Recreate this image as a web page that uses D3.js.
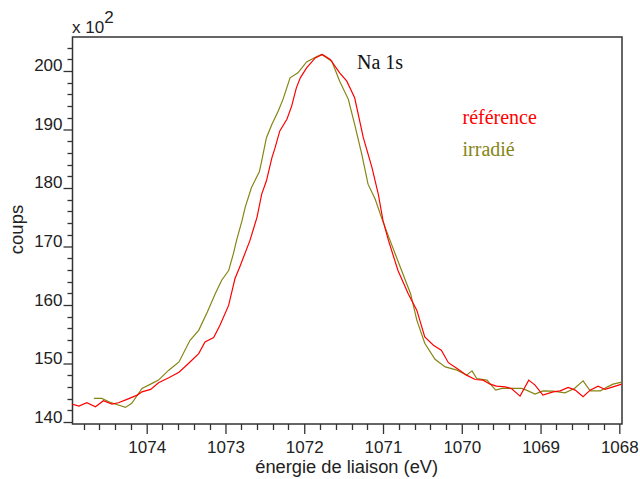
<!DOCTYPE html>
<html><head><meta charset="utf-8">
<script src="https://cdn.jsdelivr.net/npm/d3@7"></script>
<style>
html,body{margin:0;padding:0;background:#fff;}
svg{display:block;}
</style></head>
<body>
<svg id="chart" width="640" height="479"></svg>
<script>
// ---- data (counts in units of 10^2) ----
const refEnergy = [1074.95,1074.86,1074.76,1074.65,1074.55,1074.44,1074.36,1074.25,1074.12,1074.06,1073.95,1073.85,1073.72,1073.59,1073.47,1073.34,1073.26,1073.15,1073.07,1072.96,1072.88,1072.82,1072.69,1072.60,1072.54,1072.48,1072.41,1072.37,1072.31,1072.22,1072.16,1072.10,1072.05,1071.97,1071.86,1071.77,1071.67,1071.55,1071.46,1071.36,1071.25,1071.14,1071.06,1071.00,1070.93,1070.81,1070.68,1070.57,1070.47,1070.36,1070.26,1070.17,1070.06,1069.94,1069.83,1069.73,1069.64,1069.56,1069.45,1069.37,1069.26,1069.15,1069.07,1068.97,1068.84,1068.75,1068.65,1068.56,1068.46,1068.37,1068.27,1068.18,1068.08,1067.97];
const refCounts = [143.07,142.73,143.29,142.61,143.63,143.07,143.29,143.87,144.60,145.16,145.57,146.70,147.55,148.52,150.0,151.70,153.68,154.43,156.52,159.93,164.48,166.46,171.0,174.98,178.96,181.23,185.20,186.90,189.75,191.74,194.0,197.12,198.83,200.53,202.23,202.81,201.96,199.68,198.26,195.42,188.60,183.49,178.96,174.41,171.0,165.89,161.93,159.08,154.53,153.12,152.27,150.14,149.15,148.01,147.27,147.16,146.47,146.13,146.01,145.74,144.43,147.16,146.30,144.60,145.16,145.33,145.91,145.45,144.31,145.45,146.13,145.57,146.01,146.47];
const irrEnergy = [1074.67,1074.57,1074.48,1074.40,1074.27,1074.19,1074.06,1073.95,1073.85,1073.72,1073.59,1073.45,1073.34,1073.23,1073.13,1073.05,1072.96,1072.90,1072.86,1072.79,1072.75,1072.67,1072.57,1072.54,1072.48,1072.41,1072.33,1072.27,1072.18,1072.08,1071.97,1071.86,1071.78,1071.65,1071.55,1071.44,1071.36,1071.27,1071.19,1071.10,1071.02,1070.91,1070.78,1070.65,1070.57,1070.47,1070.34,1070.21,1070.06,1069.94,1069.87,1069.81,1069.68,1069.57,1069.49,1069.37,1069.24,1069.18,1069.07,1068.97,1068.84,1068.69,1068.57,1068.46,1068.37,1068.24,1068.15,1068.08,1067.97];
const irrCounts = [144.04,144.04,143.46,143.07,142.50,143.19,145.74,146.47,147.16,148.86,150.27,153.97,155.67,158.79,161.93,164.19,165.89,168.74,171.0,174.41,176.68,180.09,182.76,184.63,188.60,190.89,193.15,195.15,198.83,199.68,201.55,202.35,202.81,201.67,198.26,195.15,190.89,185.78,180.66,178.11,174.98,171.0,166.46,161.93,157.38,153.46,150.73,149.42,148.86,148.01,148.74,147.44,147.16,145.45,145.74,145.74,145.74,145.45,144.77,145.33,145.28,144.99,145.74,147.04,145.33,145.33,146.01,146.47,146.81];
const xTickLabels = [1074,1073,1072,1071,1070,1069,1068];
const yTickLabels = [140,150,160,170,180,190,200];
const seriesNames = ["référence","irradié"];
const seriesColors = ["#ff0000","#858514"];

// ---- layout ----
const L = 72.5, R = 622, T = 37, B = 424;
const svg = d3.select("#chart");
const x = d3.scaleLinear().domain([1074.942, 1067.966]).range([L, R]);
const y = d3.scaleLinear().domain([139.66, 205.81]).range([B, T]);
const sans = "'Liberation Sans', Arial, sans-serif";
const serif = "'Liberation Serif', 'Times New Roman', serif";
const axisCol = "#333";

// clip
svg.append("defs").append("clipPath").attr("id","clip")
  .append("rect").attr("x",L).attr("y",T).attr("width",R-L).attr("height",B-T);

// minor ticks
const xMinor = d3.range(10680, 10750, 2).map(v => v/10).filter(v => !xTickLabels.includes(v) && v <= 1074.94 && v >= 1067.97);
const yMinor = d3.range(140, 206, 2).filter(v => !yTickLabels.includes(v));

svg.append("g").selectAll("line").data(xMinor).join("line")
  .attr("x1", d => Math.round(x(d))+0.5).attr("x2", d => Math.round(x(d))+0.5)
  .attr("y1", B).attr("y2", B+6).attr("stroke", axisCol).attr("stroke-width",1.3);
svg.append("g").selectAll("line").data(yMinor).join("line")
  .attr("y1", d => Math.round(y(d))+0.5).attr("y2", d => Math.round(y(d))+0.5)
  .attr("x1", L-5).attr("x2", L).attr("stroke", axisCol).attr("stroke-width",1.3);

// major axes
const xAxis = d3.axisBottom(x).tickValues(xTickLabels).tickFormat(d3.format("d")).tickSize(10).tickSizeOuter(0);
const gx = svg.append("g").attr("transform", `translate(0,${B})`).call(xAxis);
gx.select(".domain").remove();
gx.selectAll(".tick line").attr("stroke", axisCol).attr("stroke-width",1.3);
gx.selectAll(".tick text").attr("y", 28.5).attr("dy", 0)
  .attr("font-family", sans).attr("font-size", "17px").attr("fill", "#222");

const yAxis = d3.axisLeft(y).tickValues(yTickLabels).tickFormat(d3.format("d")).tickSize(9).tickSizeOuter(0);
const gy = svg.append("g").attr("transform", `translate(${L},0)`).call(yAxis);
gy.select(".domain").remove();
gy.selectAll(".tick line").attr("stroke", axisCol).attr("stroke-width",1.3);
gy.selectAll(".tick text").attr("x", -10).attr("dy", 0)
  .attr("font-family", sans).attr("font-size", "17px").attr("fill", "#222");

// frame
svg.append("rect").attr("x", L).attr("y", T).attr("width", R-L).attr("height", B-T)
  .attr("fill","none").attr("stroke", axisCol).attr("stroke-width", 1.5);

// series
const line = d3.line().x(d => x(d[0])).y(d => y(d[1]));
const refData = refEnergy.map((e,i) => [e, refCounts[i]]);
const irrData = irrEnergy.map((e,i) => [e, irrCounts[i]]);
const gLines = svg.append("g").attr("clip-path","url(#clip)");
gLines.append("path").datum(irrData).attr("d", line).attr("fill","none")
  .attr("stroke", seriesColors[1]).attr("stroke-width", 1.2);
gLines.append("path").datum(refData).attr("d", line).attr("fill","none")
  .attr("stroke", seriesColors[0]).attr("stroke-width", 1.2);

// texts
svg.append("text").attr("x", 72).attr("y", 33).attr("font-family", sans).attr("font-size","17px").attr("fill","#222")
  .text("x 10").append("tspan").attr("dy", -10).text("2");
svg.append("text").attr("transform","translate(23,229.5) rotate(-90)").attr("text-anchor","middle")
  .attr("font-family", sans).attr("font-size","18.5px").attr("fill","#222").text("coups");
svg.append("text").attr("x", 346.7).attr("y", 472.5).attr("text-anchor","middle")
  .attr("font-family", sans).attr("font-size","18.3px").attr("fill","#222").text("énergie de liaison (eV)");
svg.append("text").attr("x", 357).attr("y", 69).attr("font-family", serif).attr("font-size","20px").attr("fill","#111").text("Na 1s");
svg.append("g").selectAll("text").data(seriesNames).join("text")
  .attr("x", 462.5).attr("y", (d,i) => 124.3 + i*31.7)
  .attr("font-family", serif).attr("font-size","20px")
  .attr("fill", (d,i) => seriesColors[i]).text(d => d);
</script>
</body></html>
